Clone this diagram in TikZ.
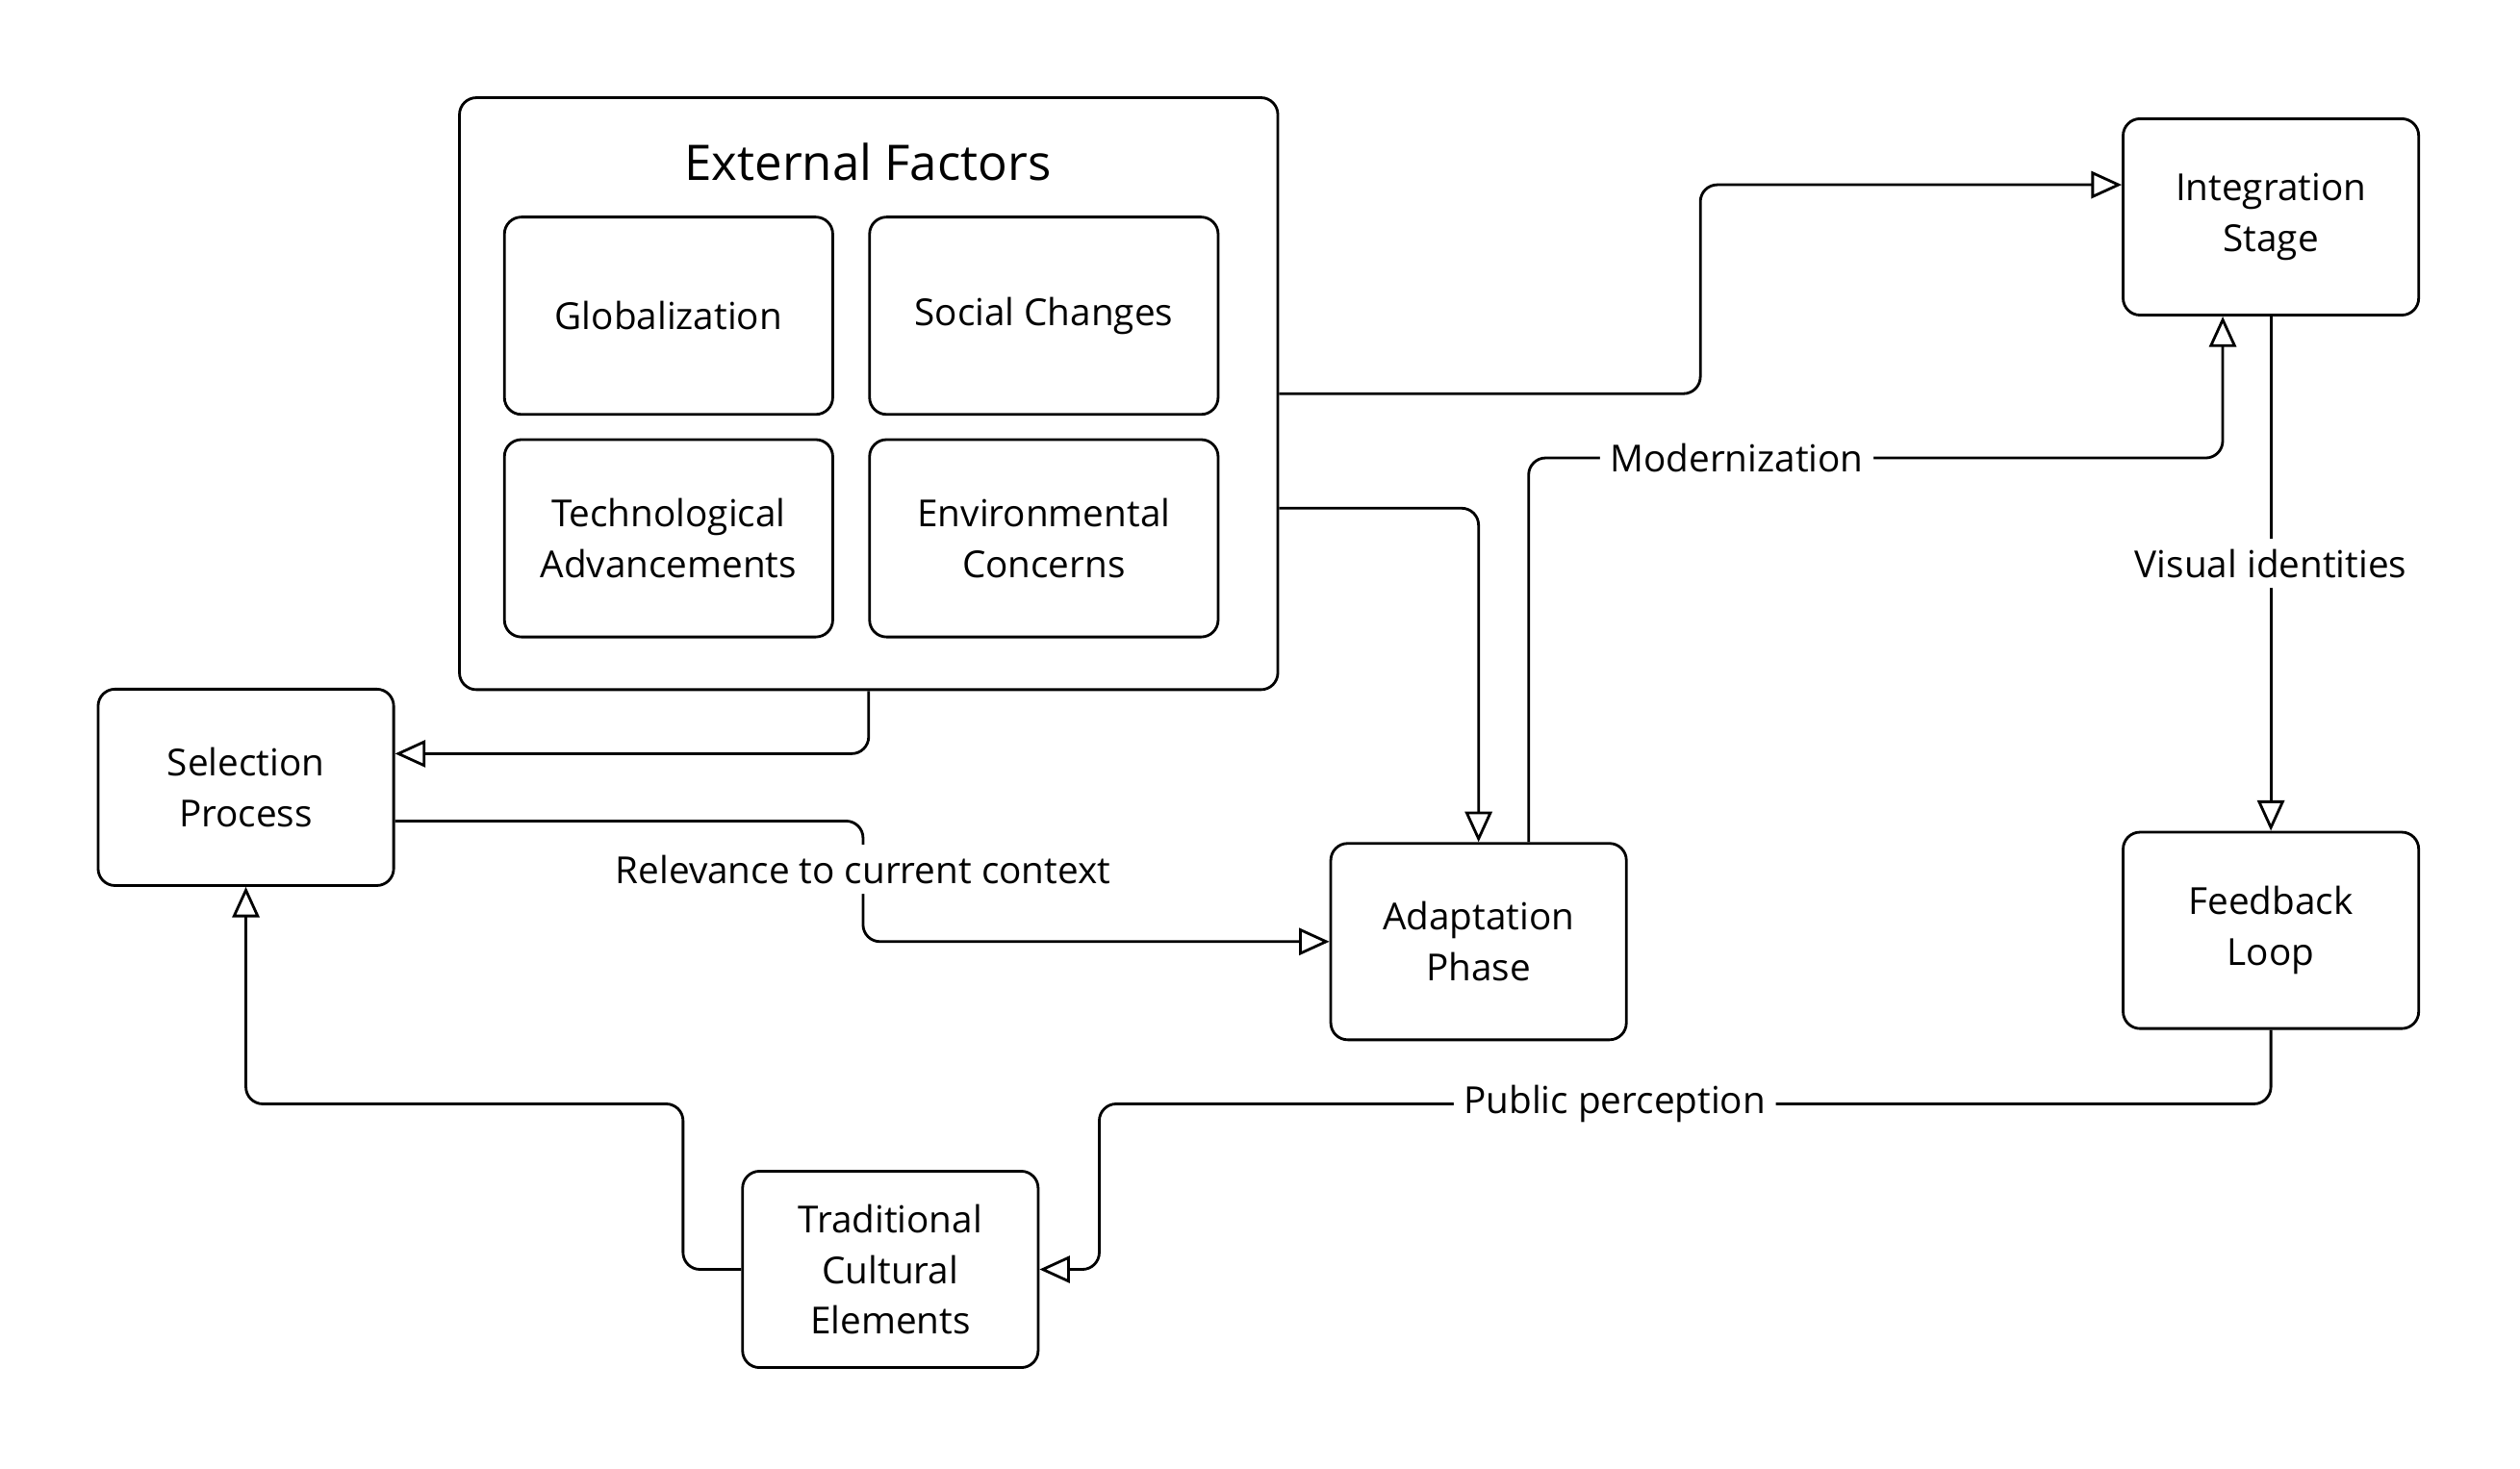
\documentclass[tikz,border=0pt]{standalone}
\usepackage{fontspec}
\setmainfont{Open Sans}
\usetikzlibrary{arrows.meta,positioning,calc}
\tikzset{box/.style={draw,thick,rounded corners=5pt,align=center,font=\fontsize{11}{15}\selectfont,inner sep=2pt},
	stage/.style={box,minimum width=3.07cm,minimum height=2.04cm},
	factor/.style={box,minimum height=2.05cm},
	link/.style={thick,rounded corners=5pt,-{Triangle[open,length=9pt,width=8pt]}},
	lbl/.style={fill=white,font=\fontsize{11}{15}\selectfont,inner sep=3pt}}
\begin{document}
\begin{tikzpicture}[x=0.0167cm,y=-0.0167cm]
	\useasboundingbox (0,0) rectangle (1568,914);
	% outer group
	\node[box,minimum width=8.5cm,minimum height=6.15cm] (ext) at (540.5,245) {};
	\node[font=\fontsize{14.5}{18}\selectfont] (exttitle) at (540,101) {External Factors};
	\node[factor,minimum width=3.41cm] (glob) at (416,196.5) {Globalization};
	\node[factor,minimum width=3.62cm] (social) at (649.5,196.5) {Social Changes};
	\node[factor,minimum width=3.41cm] (tech) at (416,335) {Technological\\Advancements};
	\node[factor,minimum width=3.62cm] (env) at (649.5,335) {Environmental\\Concerns};
	% stages
	\node[stage] (integ) at (1413,135) {Integration\\Stage};
	\node[stage] (select) at (153,490) {Selection\\Process};
	\node[stage] (adapt) at (920,586) {Adaptation\\Phase};
	\node[stage] (feed) at (1413,579) {Feedback\\Loop};
	\node[stage] (trad) at (554,790) {Traditional\\Cultural\\Elements};
	% connectors
	\draw[link] (ext.east) -| (1058,115) -- (integ.west |- 1058,115);
	\draw[link] ([yshift=-1.19cm]ext.east) -| (adapt.north);
	\draw[link] (ext.south) |- ([yshift=0.35cm]select.east);
	\draw[link] ([yshift=-0.35cm]select.east) -| (537,586) node[lbl,pos=0.7] {Relevance to current context} -- (adapt.west);
	\draw[link] ([xshift=0.52cm]adapt.north) |- (1383,285) node[lbl,pos=0.65] {Modernization} -- ([xshift=-0.5cm]integ.south);
	\draw[link] (integ.south) -- node[lbl,pos=0.48] {Visual identities} (feed.north);
	\draw[link] (feed.south) |- (684,687) node[lbl,pos=0.78] {Public perception} |- (trad.east);
	\draw[link] (trad.west) -| (425,687) -| (select.south);
\end{tikzpicture}
\end{document}
